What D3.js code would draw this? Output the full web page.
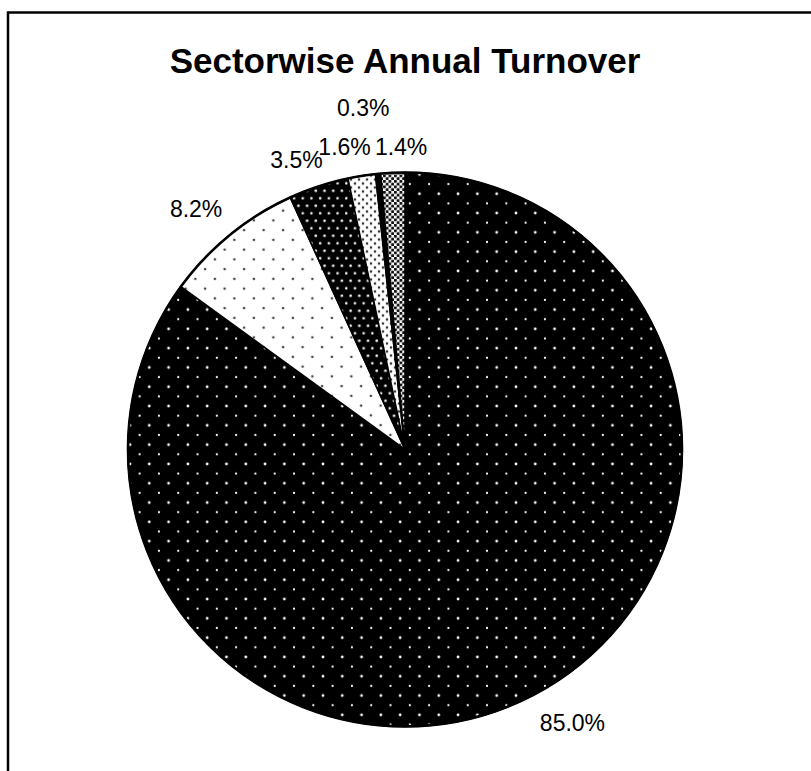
<!DOCTYPE html>
<html>
<head>
<meta charset="utf-8">
<script src="https://cdn.jsdelivr.net/npm/d3@7"></script>
<style>
  html, body { margin: 0; padding: 0; background: #fff; }
  svg { display: block; }
  text { font-family: Arial, "Liberation Sans", Helvetica, sans-serif; }
</style>
</head>
<body>
<svg id="chart" width="811" height="771"></svg>
<script>
// ---- data ----
const title = "Sectorwise Annual Turnover";
const sectors = ["Sector A", "Sector B", "Sector C", "Sector D", "Sector E", "Sector F"];
const shares = [85.0, 8.2, 3.5, 1.6, 0.3, 1.4];
const labels = ["85.0%", "8.2%", "3.5%", "1.6%", "0.3%", "1.4%"];

// ---- layout ----
const W = 811, H = 771;
const cx = 405, cy = 449.5, r = 277;
const labelR = r + 39;
// small per-label adjustments mimicking the original label placement
const nudges = [[24, -8], [-9, 4.5], [-10, 11], [-11, 10], [-11, -27.5], [10, 13]];

const svg = d3.select("#chart");
svg.append("rect").attr("width", W).attr("height", H).attr("fill", "#fff");

// patterns
const defs = svg.append("defs");
function stagger(id, w, h, bg, dot, rad, rad2) {
  const p = defs.append("pattern").attr("id", id)
    .attr("patternUnits", "userSpaceOnUse").attr("width", w).attr("height", h);
  p.append("rect").attr("width", w).attr("height", h).attr("fill", bg);
  const pts = [[w * 0.25, h * 0.25, rad], [w * 0.75, h * 0.75, rad2 == null ? rad : rad2]];
  pts.forEach(([x, y, rr]) => p.append("circle").attr("cx", x).attr("cy", y).attr("r", rr).attr("fill", dot));
}
stagger("p0", 19.3, 19.3, "#000", "#fff", 1.1, 1.4);
stagger("p1", 19.5, 19.5, "#fff", "#444", 1.3);
stagger("p2", 8.7, 15, "#000", "#fff", 1.3);
stagger("p3", 8, 8, "#fff", "#333", 1.3);
stagger("p4", 6, 6, "#000", "#000", 0.1);
stagger("p5", 5.5, 5.5, "#fff", "#111", 1.6);
const p5 = defs.select("#p5");
p5.append("circle").attr("cx", 0).attr("cy", 0).attr("r", 0.9).attr("fill", "#111");
p5.append("circle").attr("cx", 5.5).attr("cy", 5.5).attr("r", 0.9).attr("fill", "#111");

const fills = ["url(#p0)", "url(#p1)", "url(#p2)", "url(#p3)", "url(#p4)", "url(#p5)"];

const data = sectors.map((s, i) => ({ name: s, value: shares[i], label: labels[i], fill: fills[i] }));

const pie = d3.pie().value(d => d.value).sort(null);
const arcs = pie(data);
const arc = d3.arc().innerRadius(0).outerRadius(r);

const g = svg.append("g").attr("transform", `translate(${cx},${cy})`);
g.selectAll("path.slice").data(arcs).enter().append("path")
  .attr("class", "slice")
  .attr("d", arc)
  .attr("fill", d => d.data.fill)
  .attr("stroke", "#000")
  .attr("stroke-width", 1.6)
  .attr("stroke-linejoin", "round");
g.append("circle").attr("r", r).attr("fill", "none").attr("stroke", "#000").attr("stroke-width", 2.6);

// labels
g.selectAll("text.lbl").data(arcs).enter().append("text")
  .attr("class", "lbl")
  .attr("x", (d, i) => Math.sin((d.startAngle + d.endAngle) / 2) * labelR + nudges[i][0])
  .attr("y", (d, i) => -Math.cos((d.startAngle + d.endAngle) / 2) * labelR + 8 + nudges[i][1])
  .attr("text-anchor", "middle")
  .attr("font-size", 23)
  .attr("fill", "#000")
  .text(d => d.data.label);

// title
svg.append("text")
  .attr("x", cx).attr("y", 72.5)
  .attr("text-anchor", "middle")
  .attr("font-size", 35).attr("font-weight", "bold")
  .text(title);

// frame
svg.append("rect").attr("x", 8).attr("y", 12.5).attr("width", 1000).attr("height", 1000)
  .attr("fill", "none").attr("stroke", "#000").attr("stroke-width", 2.5);
</script>
</body>
</html>
